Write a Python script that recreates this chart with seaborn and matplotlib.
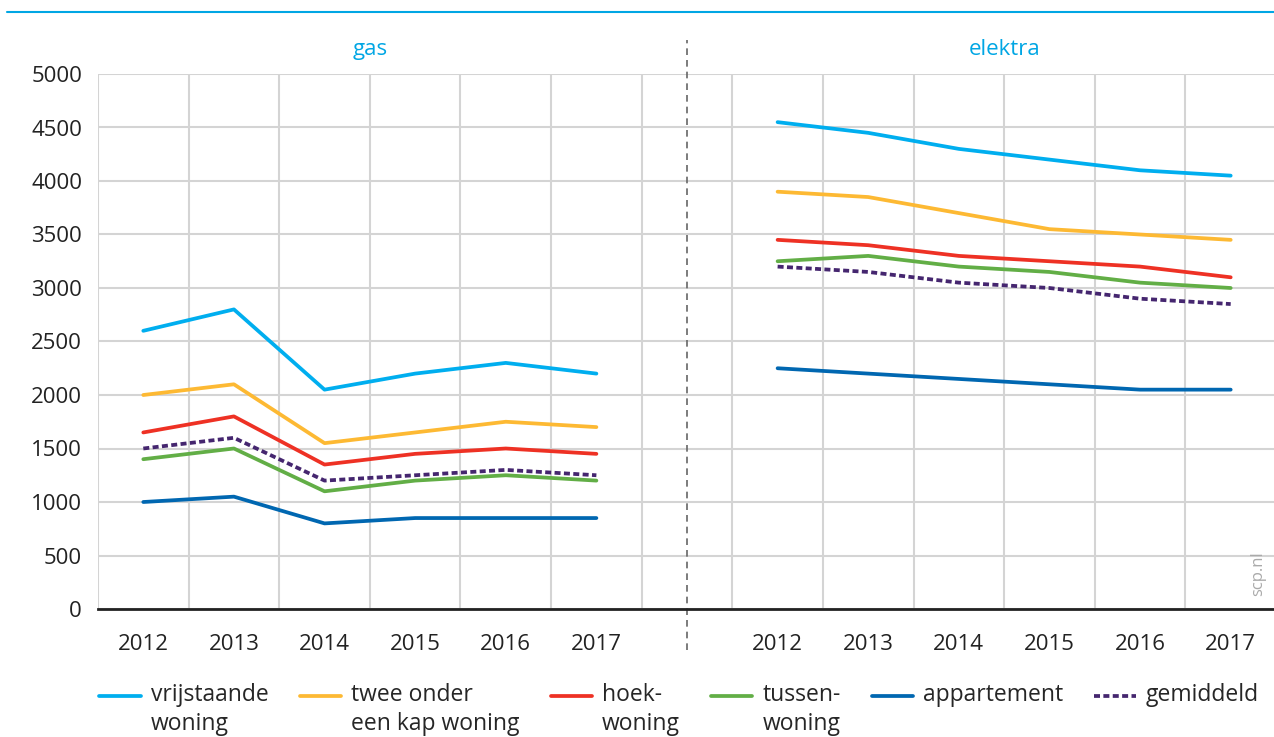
import numpy as np
import pandas as pd
import seaborn as sns
import matplotlib.pyplot as plt
from matplotlib.lines import Line2D

# data
years = [2012, 2013, 2014, 2015, 2016, 2017]
woningtypes = ['vrijstaande\nwoning', 'twee onder\neen kap woning', 'hoek-\nwoning',
               'tussen-\nwoning', 'appartement', 'gemiddeld']

gas_vrijstaand = [2600, 2800, 2050, 2200, 2300, 2200]
gas_twee_onder = [2000, 2100, 1550, 1650, 1750, 1700]
gas_hoek = [1650, 1800, 1350, 1450, 1500, 1450]
gas_tussen = [1400, 1500, 1100, 1200, 1250, 1200]
gas_appartement = [1000, 1050, 800, 850, 850, 850]
gas_gemiddeld = [1500, 1600, 1200, 1250, 1300, 1250]

elektra_vrijstaand = [4550, 4450, 4300, 4200, 4100, 4050]
elektra_twee_onder = [3900, 3850, 3700, 3550, 3500, 3450]
elektra_hoek = [3450, 3400, 3300, 3250, 3200, 3100]
elektra_tussen = [3250, 3300, 3200, 3150, 3050, 3000]
elektra_appartement = [2250, 2200, 2150, 2100, 2050, 2050]
elektra_gemiddeld = [3200, 3150, 3050, 3000, 2900, 2850]

colors = ['#00AEEF', '#FDB933', '#EE3124', '#62AE46', '#0067B1', '#45266F']

gas = [gas_vrijstaand, gas_twee_onder, gas_hoek, gas_tussen, gas_appartement, gas_gemiddeld]
elektra = [elektra_vrijstaand, elektra_twee_onder, elektra_hoek, elektra_tussen,
           elektra_appartement, elektra_gemiddeld]

# long table; elektra panel is shifted 7 slots to the right of gas
rows = []
for offset, energie, series in [(0, 'gas', gas), (7, 'elektra', elektra)]:
    for wt, vals in zip(woningtypes, series):
        for i, (yr, v) in enumerate(zip(years, vals)):
            rows.append({'pos': i + offset, 'jaar': yr, 'verbruik': v,
                         'woning': wt, 'energie': energie})
df = pd.DataFrame(rows)

sns.set_style('white')
plt.rcParams['font.family'] = ['Open Sans', 'DejaVu Sans']
fs = 16
lfs = 16.5

fig = plt.figure(figsize=(12.74, 7.37), dpi=100)
ax = fig.add_axes([98 / 1274, 1 - 609 / 737, 1178 / 1274, 535 / 737])

palette = dict(zip(woningtypes, colors))
dashes = {wt: '' for wt in woningtypes}
dashes['gemiddeld'] = (1.6, 0.9)
sns.lineplot(data=df, x='pos', y='verbruik', hue='woning', style='woning',
             units='energie', estimator=None, palette=palette, dashes=dashes,
             linewidth=2.7, ax=ax, legend=False)

ax.set_xlim(-0.5, 12.5)
ax.set_ylim(0, 5000)
ax.set_yticks(np.arange(0, 5001, 500))
ax.set_xticks(list(range(6)) + list(range(7, 13)))
ax.set_xticklabels([str(y) for y in years] * 2)
ax.set_xticks(np.arange(-0.5, 12.6, 1), minor=True)
ax.grid(axis='y', color='#d4d4d4', linewidth=1.5)
ax.grid(axis='x', which='minor', color='#d4d4d4', linewidth=1.5)
ax.set_axisbelow(True)
for s in ['top', 'right', 'left']:
    ax.spines[s].set_visible(False)
ax.spines['bottom'].set_color('#222222')
ax.spines['bottom'].set_linewidth(2)
ax.tick_params(axis='y', length=0, pad=11.5, labelsize=fs, labelcolor='#222222')
ax.tick_params(axis='x', which='major', length=6, width=1, color='#444444',
               pad=12, labelsize=fs, labelcolor='#222222')
ax.tick_params(axis='x', which='minor', length=0)
ax.set_xlabel('')
ax.set_ylabel('')

# separator between gas and elektra
ax.axvline(6, ymin=-0.077, ymax=1.064, color='#666666', linewidth=1.2,
           dashes=(4, 3), clip_on=False)

ax.text(2.5, 5230, 'gas', ha='center', va='center', fontsize=fs, color='#00A6E4')
ax.text(9.5, 5230, 'elektra', ha='center', va='center', fontsize=fs, color='#00A6E4')
ax.text(12.3, 330, 'scp.nl', rotation=90, ha='center', va='center', fontsize=12,
        color='#aaaaaa')

fig.add_artist(Line2D([0.0055, 1], [0.984, 0.984], transform=fig.transFigure,
                      color='#00A6E4', linewidth=1.5))

# legend: every label gets two lines so the handles can sit on the first one
labels = [wt if '\n' in wt else wt + '\n ' for wt in woningtypes]
handles = []
for wt, c in zip(woningtypes, colors):
    if wt == 'gemiddeld':
        handles.append(Line2D([], [], color=c, linewidth=2.7, dashes=(1.6, 0.9)))
    else:
        handles.append(Line2D([], [], color=c, linewidth=2.7))
leg = fig.legend(handles, labels, loc='upper left', bbox_to_anchor=(0.078, 0.073),
                 ncol=6, frameon=False, fontsize=lfs, handlelength=1.8,
                 handletextpad=0.45, columnspacing=1.35, borderaxespad=0, borderpad=0)
linesp = 1.27
for t in leg.get_texts():
    t.set_multialignment('left')
    t.set_linespacing(linesp)
shift = lfs * linesp / 2
for h in leg.legend_handles:
    h.set_ydata(np.asarray(h.get_ydata()) + shift)

fig.savefig('out.png', dpi=100)
